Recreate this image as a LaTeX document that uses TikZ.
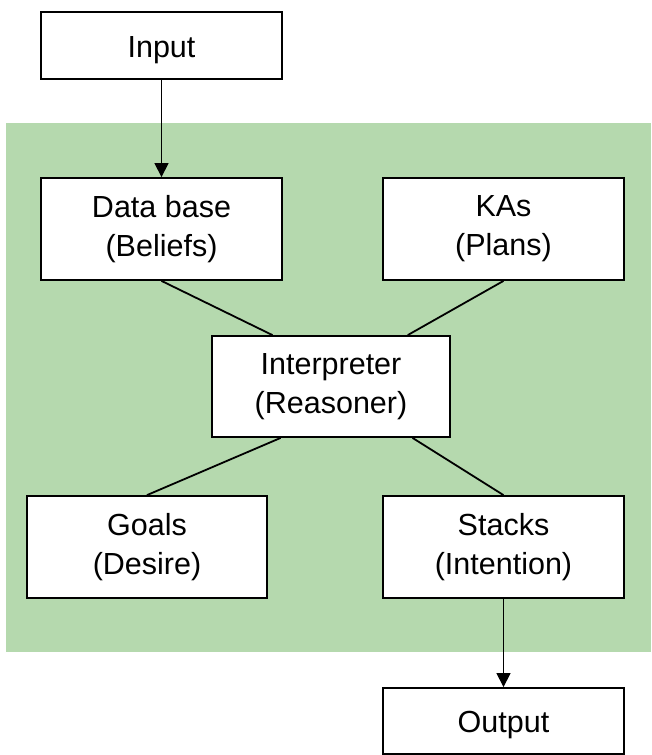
\documentclass[tikz,border=0pt]{standalone}
\usepackage{fontspec}
\setmainfont{Liberation Sans}
\usetikzlibrary{arrows.meta,calc}
\definecolor{panelgreen}{RGB}{181,217,174}
\begin{document}
\begin{tikzpicture}[x=1pt,y=-1pt,
  block/.style={draw=black,line width=1.8pt,fill=white,align=center,
    inner sep=0pt,font=\fontsize{30.5}{39}\selectfont,
    execute at begin node={\rule{0pt}{30pt}}},
  link/.style={draw=black,line width=1.8pt},
  flow/.style={draw=black,line width=1.2pt,-{Triangle[width=14pt,length=14pt]}}]
  \useasboundingbox (0,0) rectangle (651,755);
  % shaded panel holding the agent internals
  \fill[panelgreen] (6,123) rectangle (651,652);
  \node[block,minimum width=241pt,minimum height=67pt] (input) at (161.5,45.5) {Input};
  \node[block,minimum width=241pt,minimum height=102pt] (db) at (161.5,229) {Data base\\(Beliefs)};
  \node[block,minimum width=241pt,minimum height=102pt] (kas) at (503.5,229) {KAs\\(Plans)};
  \node[block,minimum width=238pt,minimum height=101pt] (interp) at (331,386.5) {Interpreter\\(Reasoner)};
  \node[block,minimum width=240pt,minimum height=102pt] (goals) at (147,547) {Goals\\(Desire)};
  \node[block,minimum width=241pt,minimum height=102pt] (stacks) at (503.5,547) {Stacks\\(Intention)};
  \node[block,minimum width=241pt,minimum height=66pt] (output) at (503.5,721) {Output};
  % connectors
  \draw[flow] (input.south) -- (db.north);
  \draw[link] (db.south) -- ($(interp.north west)!0.256!(interp.north east)$);
  \draw[link] (kas.south) -- ($(interp.north west)!0.82!(interp.north east)$);
  \draw[link] ($(interp.south west)!0.29!(interp.south east)$) -- (goals.north);
  \draw[link] ($(interp.south west)!0.84!(interp.south east)$) -- (stacks.north);
  \draw[flow] (stacks.south) -- (output.north);
\end{tikzpicture}
\end{document}
